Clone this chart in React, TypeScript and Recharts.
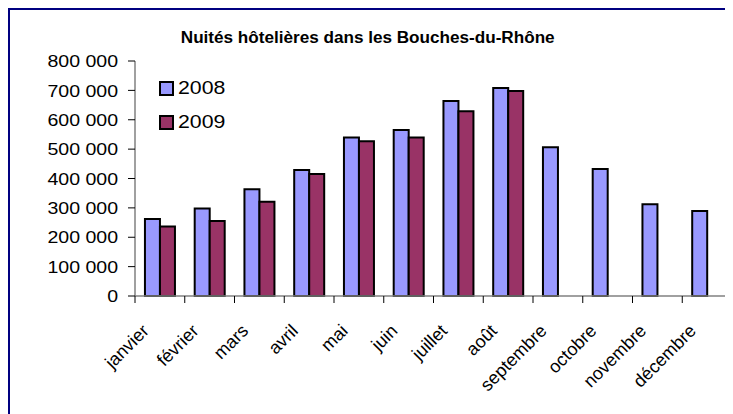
import React from "react";
import { BarChart, Bar, XAxis, YAxis } from "recharts";

const MONTHS = ["janvier", "février", "mars", "avril", "mai", "juin", "juillet", "août", "septembre", "octobre", "novembre", "décembre"];
const NUITES_2008 = [262000, 298000, 363000, 429000, 540000, 565000, 664000, 708000, 506000, 432000, 312000, 289000];
const NUITES_2009 = [237000, 255000, 321000, 415000, 527000, 540000, 629000, 698000, null, null, null, null];
const Y_TICKS = [0, 100000, 200000, 300000, 400000, 500000, 600000, 700000, 800000];

const data = MONTHS.map((m, i) => ({ mois: m, a2008: NUITES_2008[i], a2009: NUITES_2009[i] }));

const FONT = "'Liberation Sans', Arial, sans-serif";
const COLOR_2008 = "#9999FF";
const COLOR_2009 = "#993366";

const fmt = (v: number) => (v === 0 ? "0" : `${Math.round(v / 1000)} 000`);

const YTick = (props: any) => {
    const { x, y, payload } = props;
    return (
        <g transform={`translate(${x},${y}) scale(1.15,1)`}>
            <text textAnchor="end" dy="0.36em" fontSize={17} fill="#000" fontFamily={FONT}>
                {fmt(payload.value)}
            </text>
        </g>
    );
};

// Excel-style ticks between categories, labels rotated 45°
const XTick = (props: any) => {
    const { x, y, payload, index } = props;
    const half = payload.offset || 24.9;
    const axisY = y - 8;
    return (
        <g>
            <line x1={x - half} x2={x - half} y1={axisY} y2={axisY + 7} stroke="#000" />
            {index === MONTHS.length - 1 && (
                <line x1={x + half} x2={x + half} y1={axisY} y2={axisY + 7} stroke="#000" />
            )}
            <text
                transform={`translate(${x - 10},${y + 28}) rotate(-45)`}
                textAnchor="end"
                fontSize={18}
                fill="#000"
                fontFamily={FONT}
            >
                {payload.value}
            </text>
        </g>
    );
};

const LegendBox = () => (
    <div style={{ position: "absolute", left: 149, top: 61, fontFamily: FONT, fontSize: 19, lineHeight: "34px" }}>
        {[["2008", COLOR_2008], ["2009", COLOR_2009]].map(([label, c]) => (
            <div key={label} style={{ display: "flex", alignItems: "center" }}>
                <span style={{ width: 11, height: 11, background: c, border: "2px solid #000", marginRight: 4 }} />
                <span style={{ display: "inline-block", transform: "scaleX(1.12)", transformOrigin: "left" }}>{label}</span>
            </div>
        ))}
    </div>
);

export default function App() {
    return (
        <div style={{ width: 723, height: 404, borderTop: "2px solid #000080", borderLeft: "2px solid #000080", position: "relative", background: "#fff" }}>
            <div style={{ position: "absolute", top: 19, left: 0, width: 716, textAlign: "center", fontFamily: FONT, fontWeight: "bold", fontSize: 16 }}>
                <span style={{ display: "inline-block", transform: "scaleX(1.07)" }}>Nuités hôtelières dans les Bouches-du-Rhône</span>
            </div>
            <BarChart
                width={723}
                height={404}
                data={data}
                margin={{ top: 51, right: 1, left: 0, bottom: 8 }}
                barCategoryGap="20%"
                barGap={0}
            >
                <XAxis
                    dataKey="mois"
                    height={110}
                    interval={0}
                    axisLine={{ stroke: "#808080", strokeWidth: 1.5 }}
                    tickLine={false}
                    tick={<XTick />}
                />
                <XAxis xAxisId="top" dataKey="mois" orientation="top" height={0} tick={false} tickLine={false} axisLine={{ stroke: "#909090", strokeWidth: 2 }} />
                <YAxis
                    width={125}
                    domain={[0, 800000]}
                    ticks={Y_TICKS}
                    interval={0}
                    tickSize={7}
                    tickMargin={10}
                    axisLine={{ stroke: "#808080", strokeWidth: 1.5 }}
                    tickLine={{ stroke: "#000" }}
                    tick={<YTick />}
                />
                <YAxis yAxisId="right" orientation="right" width={0} domain={[0, 800000]} tick={false} tickLine={false} axisLine={{ stroke: "#909090", strokeWidth: 2 }} />
                <Bar dataKey="a2008" name="2008" fill={COLOR_2008} stroke="#000" strokeWidth={2} isAnimationActive={false} />
                <Bar dataKey="a2009" name="2009" fill={COLOR_2009} stroke="#000" strokeWidth={2} isAnimationActive={false} />
            </BarChart>
            <LegendBox />
        </div>
    );
}
